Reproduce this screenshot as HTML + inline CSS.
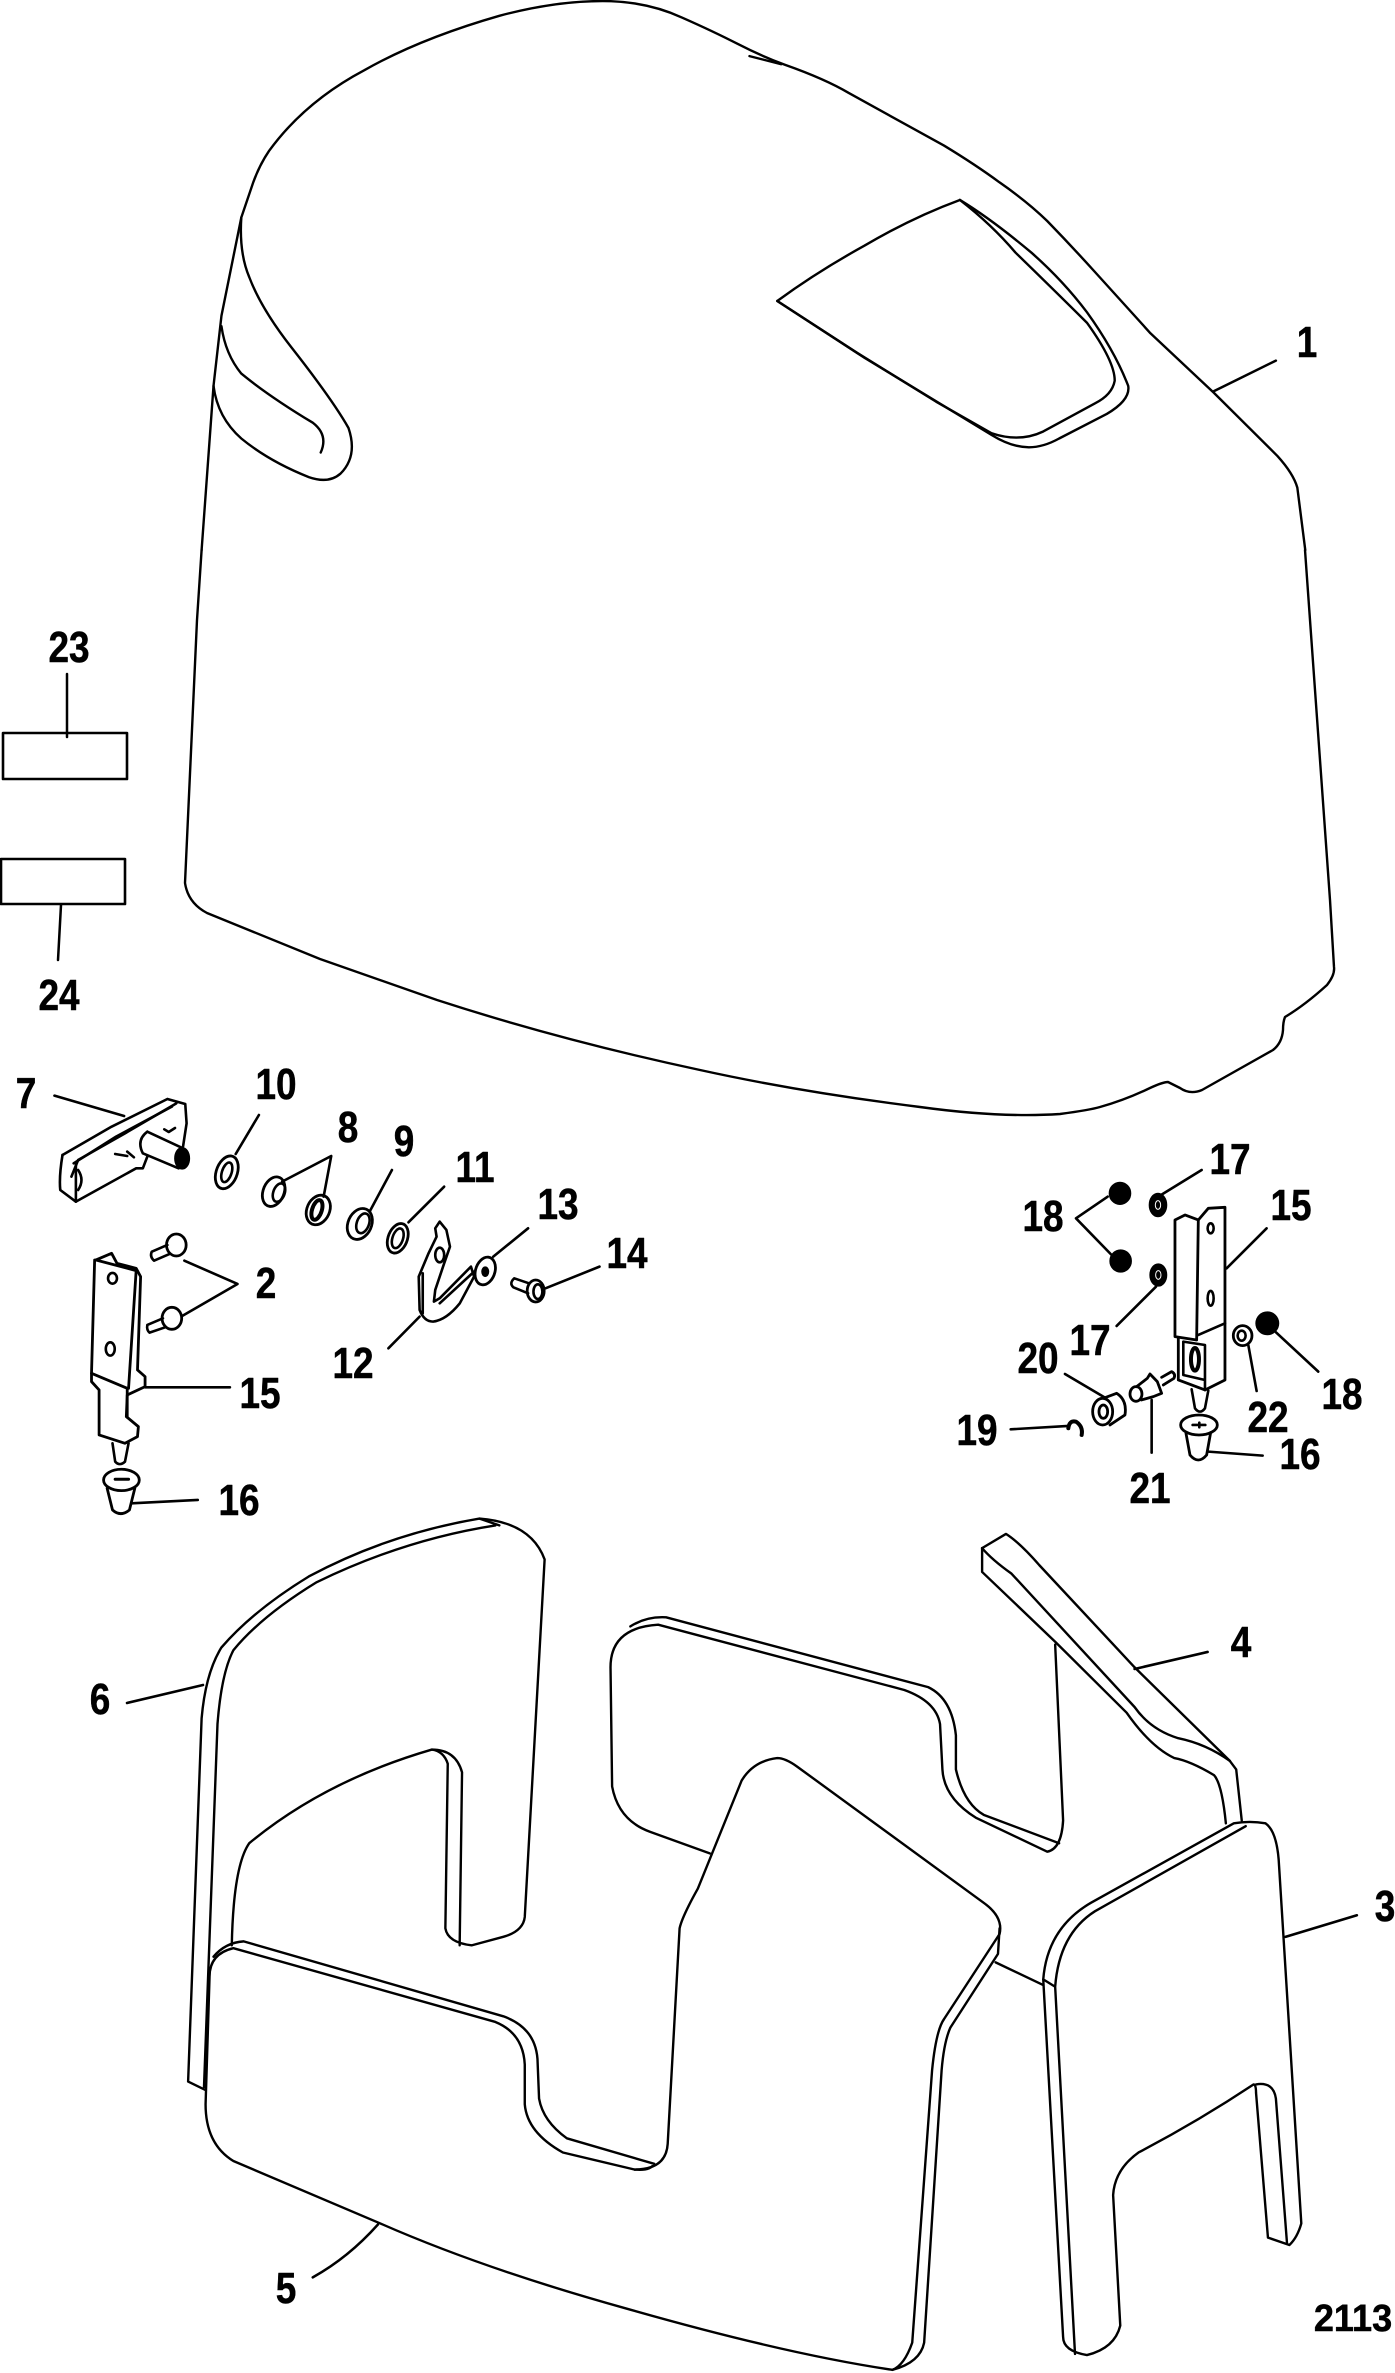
<!DOCTYPE html>
<html><head><meta charset="utf-8"><title>Cowl diagram</title>
<style>
html,body{margin:0;padding:0;background:#fff}
svg{display:block}
path,line,ellipse,rect,polyline{vector-effect:non-scaling-stroke}
text{font-family:"Liberation Sans",sans-serif;font-weight:bold;font-size:44px;text-anchor:middle;fill:#000;stroke:#000;stroke-width:.5px}
</style></head><body>
<svg xmlns="http://www.w3.org/2000/svg" width="1395" height="2373" viewBox="0 0 1395 2373" fill="none" stroke="#000" stroke-width="2.4" stroke-linejoin="round" stroke-linecap="round">

<!-- Cowl upper, zoom 3 space -->
<g transform="translate(150,0) scale(.7940,.3508)">
<path d="M65,1568 L80,1100 L90,900 L115,620 L130,520 Q138,470 150,430 Q195,290 270,200 Q340,110 440,45 Q510,3 570,3 Q625,3 670,50 Q710,90 740,125 Q770,160 800,185 Q850,225 880,265 L1000,415 Q1040,470 1070,520 Q1105,575 1130,630 Q1160,700 1190,775 L1260,950 L1340,1120 L1420,1300 Q1440,1350 1445,1390 L1455,1568"/>
<path d="M755,160 L795,183"/>
<path d="M115,620 Q112,720 125,790 Q140,880 178,990 Q230,1140 250,1220 Q262,1300 240,1350 Q225,1380 200,1360 Q150,1315 115,1250 Q85,1190 80,1100"/>
<path d="M90,930 Q95,1010 115,1065 Q150,1130 205,1205 Q225,1240 215,1290"/>
<path d="M1020,570 Q960,620 900,700 Q840,775 790,858 L900,1020 L1060,1240 Q1085,1275 1107,1275 Q1125,1275 1145,1250 L1205,1180 Q1235,1140 1232,1100 Q1215,1000 1180,890 Q1150,800 1110,720 Q1060,625 1020,570"/>
<path d="M1020,570 Q1060,640 1090,720 Q1140,830 1180,920 Q1215,1030 1215,1085 Q1212,1125 1190,1150 L1125,1230 Q1095,1262 1060,1235 L990,1145 L890,1005 L790,858"/>
<path d="M1340,1115 L1418,1028" stroke-width="2.5"/>
</g>
<!-- Cowl lower -->
<path d="M1305,550 L1330,900 L1334,967 Q1335,975 1327,985 Q1305,1005 1285,1017 Q1283,1022 1283,1030 Q1282,1043 1273,1050 L1202,1090 Q1190,1095 1180,1088 L1168,1082 Q1163,1082 1150,1088 Q1125,1100 1100,1107 Q1090,1110 1060,1114 Q1000,1118 920,1107 Q800,1092 700,1070 Q560,1040 437,1000 L320,959 L207,913 Q188,903 185,883 L197,620 L201.6,550"/>

<!-- 23, 24 -->
<rect x="3" y="733" width="124" height="46" stroke-width="2.6"/>
<rect x="1" y="859" width="124" height="45" stroke-width="2.6"/>
<line x1="67" y1="674" x2="67" y2="737" stroke-width="2.5"/>
<line x1="61" y1="905" x2="58" y2="960" stroke-width="2.5"/>

<!-- Left hardware, zoom 1 space -->
<g transform="translate(0,1000) scale(.4464,.3333)" stroke-width="2.6">
<path d="M122,287 L278,348" stroke-width="2.6"/>
<path d="M140,465 L250,380 L375,297 L415,312 L418,370 L410,440"/>
<path d="M140,465 Q132,530 135,570 L170,605 L305,505 L320,505 L330,470"/>
<path d="M165,490 L260,410 L385,320"/>
<path d="M160,530 L175,480 L280,400 L395,310"/>
<path d="M170,490 L170,605"/>
<path d="M175,510 Q190,540 175,570"/>
<path d="M330,395 L410,445 M320,460 L400,505 M330,395 Q305,420 320,460"/>
<ellipse cx="408" cy="475" rx="15" ry="30" fill="#000"/>
<path d="M368,388 L378,396 L392,384 M258,462 L285,468 M285,455 L300,472"/>
<ellipse cx="508" cy="517" rx="24" ry="50" transform="rotate(12 508 517)" stroke-width="2.8"/>
<ellipse cx="508" cy="517" rx="11" ry="30" transform="rotate(12 508 517)"/>
<path d="M528,462 L580,345"/>
<ellipse cx="613" cy="575" rx="24" ry="45" transform="rotate(12 613 575)" stroke-width="2.8"/>
<ellipse cx="625" cy="578" rx="13" ry="28" transform="rotate(12 625 578)"/>
<ellipse cx="713" cy="630" rx="26" ry="45" transform="rotate(12 713 630)" stroke-width="2.8"/>
<ellipse cx="710" cy="630" rx="11" ry="30" transform="rotate(12 710 630)" stroke-width="4"/>
<path d="M632,545 L742,468 L725,590"/>
<ellipse cx="806" cy="672" rx="27" ry="47" transform="rotate(12 806 672)" stroke-width="2.8"/>
<ellipse cx="813" cy="670" rx="14" ry="30" transform="rotate(12 813 670)"/>
<path d="M828,635 L878,510"/>
<ellipse cx="891" cy="715" rx="22" ry="45" transform="rotate(12 891 715)" stroke-width="2.8"/>
<ellipse cx="891" cy="715" rx="12" ry="30" transform="rotate(12 891 715)"/>
<path d="M915,667 L995,560"/>
<path d="M985,665 L975,685 L978,710 L960,760 L938,830 L940,930 Q950,965 970,965 Q1000,960 1030,910 L1062,830 L1055,800 L985,895 L972,905 L975,870 L995,790 L1008,740 L1000,690 Z"/>
<path d="M947,820 L947,940 M985,910 L1062,815"/>
<ellipse cx="985" cy="765" rx="10" ry="22"/>
<path d="M940,950 L870,1045"/>
<ellipse cx="1087" cy="813" rx="22" ry="42" transform="rotate(10 1087 813)" stroke-width="2.8"/>
<ellipse cx="1087" cy="815" rx="6" ry="12" fill="#000"/>
<path d="M1105,770 L1183,685"/>
<ellipse cx="1200" cy="873" rx="19" ry="33" stroke-width="2.8"/>
<ellipse cx="1205" cy="875" rx="10" ry="22"/>
<path d="M1185,850 L1152,835 Q1140,850 1150,862 L1183,880"/>
<path d="M1222,865 L1343,800"/>
<ellipse cx="395" cy="735" rx="22" ry="33" stroke-width="2.8"/>
<path d="M375,735 L340,755 Q335,770 345,782 L380,762"/>
<ellipse cx="385" cy="955" rx="22" ry="33" stroke-width="2.8"/>
<path d="M365,955 L330,975 Q328,990 335,998 L370,982"/>
<path d="M413,782 L532,852 L408,948"/>
<path d="M215,780 L250,760 L262,790 L305,805 L315,830 L308,1110 L325,1130 L325,1160 L285,1185 L283,1250 L310,1280 L308,1310 L280,1330 L222,1305 L222,1170 L205,1145 L205,1120 L212,780 Z" stroke-width="2.8"/>
<path d="M205,1120 L285,1165 L285,1250 M215,780 L305,812 L288,1165" stroke-width="2.8"/>
<ellipse cx="252" cy="835" rx="10" ry="16"/>
<ellipse cx="247" cy="1047" rx="10" ry="20"/>
<path d="M252,1330 L258,1385 Q268,1400 280,1385 L288,1330"/>
<ellipse cx="272" cy="1440" rx="40" ry="32" stroke-width="2.8"/>
<path d="M258,1438 L288,1438" stroke-width="3"/>
<path d="M240,1465 L252,1530 Q270,1552 290,1530 L302,1465" stroke-width="2.8"/>
<path d="M295,1510 L443,1500"/>
<path d="M325,1162 L515,1162"/>
</g>

<!-- Right hardware, zoom 2 space -->
<g transform="translate(920,1100) scale(.3333)" stroke-width="2.6">
<path d="M563,290 L468,355 L575,465"/>
<ellipse cx="600" cy="280" rx="30" ry="31" fill="#000"/>
<ellipse cx="602" cy="483" rx="30" ry="31" fill="#000"/>
<ellipse cx="714" cy="315" rx="24" ry="33" fill="#000"/>
<ellipse cx="714" cy="315" rx="8" ry="13" stroke="#fff" stroke-width="1"/>
<ellipse cx="715" cy="525" rx="23" ry="31" fill="#000"/>
<ellipse cx="715" cy="525" rx="8" ry="13" stroke="#fff" stroke-width="1"/>
<path d="M723,285 L845,210 M708,560 L590,678"/>
<path d="M765,360 L795,345 L835,360 L830,720 L765,710 Z" stroke-width="2.8"/>
<path d="M835,360 L865,325 L915,322 L915,840 L855,870 L775,840 L775,715" stroke-width="2.8"/>
<path d="M835,705 L915,670 M790,725 L855,735 L855,870 M790,725 L790,825 L855,840"/>
<ellipse cx="825" cy="778" rx="12" ry="34" stroke-width="4"/>
<ellipse cx="872" cy="385" rx="9" ry="15"/>
<ellipse cx="872" cy="595" rx="9" ry="22"/>
<path d="M920,505 L1040,385"/>
<path d="M815,868 L825,925 Q840,945 855,925 L865,872"/>
<ellipse cx="837" cy="975" rx="55" ry="30" stroke-width="2.8"/>
<path d="M818,975 L856,975 M838,968 L838,982"/>
<path d="M798,1000 L810,1065 Q835,1095 860,1065 L872,998" stroke-width="2.8"/>
<path d="M865,1055 L1028,1067"/>
<ellipse cx="1042" cy="670" rx="32" ry="32" fill="#000"/>
<path d="M1068,697 L1195,815"/>
<ellipse cx="968" cy="707" rx="28" ry="30" stroke-width="2.8"/>
<ellipse cx="965" cy="707" rx="12" ry="15"/>
<path d="M985,735 L1010,873"/>
<ellipse cx="548" cy="935" rx="30" ry="40" stroke-width="2.8"/>
<ellipse cx="550" cy="935" rx="13" ry="20" stroke-width="2.8"/>
<path d="M555,893 L590,880 Q622,900 615,945 L570,975" stroke-width="2.8"/>
<path d="M435,822 L555,893"/>
<ellipse cx="648" cy="882" rx="18" ry="22" stroke-width="2.8"/>
<path d="M650,860 L682,835 L690,822 L712,845 L725,880 L700,890 L664,900" stroke-width="2.8"/>
<path d="M725,832 L755,815 Q768,822 762,835 L730,855" stroke-width="2.8"/>
<path d="M695,900 L695,1058"/>
<path d="M445,985 Q448,960 468,965 Q490,980 485,1005" stroke-width="4"/>
<path d="M272,988 L445,978"/>
</g>

<!-- Pads, zoom 4 space -->
<g transform="translate(150,1480) scale(.7940,.5675)">
<!-- part 6 -->
<path d="M70,1075 L48,1060 L65,420 Q70,340 90,295 Q130,230 200,170 Q300,95 415,68 Q480,75 497,140 L472,770 Q470,795 445,805 L405,820 Q375,815 372,790 L375,500 Q370,478 355,475 Q220,530 125,640 Q105,680 103,820"/>
<path d="M68,1070 L85,430 Q90,340 105,300 Q140,240 210,180 Q320,105 435,80"/>
<path d="M415,68 L440,80 M355,475 Q385,475 393,515 L390,820"/>
<!-- part 4 -->
<path d="M1140,290 L1150,600 Q1148,650 1130,655 L1040,595 Q1000,560 998,510 L995,430 Q990,390 950,370 L640,255 Q580,260 580,330 L582,540 Q590,600 630,620 L705,658"/>
<path d="M605,258 Q625,240 650,242 L980,365 Q1010,385 1015,450 L1015,510 Q1025,570 1050,590 L1145,640"/>
<path d="M1048,120 L1078,95 Q1095,110 1120,150 L1240,330 L1360,495 L1368,510 L1375,600"/>
<path d="M1048,120 L1048,162 L1140,285 L1230,410 Q1260,470 1290,490 Q1310,495 1340,520 Q1350,535 1355,605"/>
<path d="M1048,120 Q1060,140 1085,165 L1240,400 Q1260,440 1295,455 Q1330,465 1360,495"/>
<path d="M1065,850 L1125,890"/>
<!-- part 5 -->
<path fill="#fff" d="M75,875 Q75,835 105,825 L435,955 Q470,975 472,1030 L472,1100 Q475,1150 520,1185 L610,1215 Q650,1215 652,1170 L667,790 Q670,770 690,720 L745,530 Q760,495 790,490 Q800,490 815,505 L1050,745 Q1075,770 1070,800 L1000,950 Q990,970 985,1040 L960,1520 Q950,1560 935,1568 Q800,1540 600,1460 Q420,1390 290,1310 L105,1200 Q70,1170 70,1100 Z"/>
<path d="M80,840 Q95,815 118,813 L445,945 Q485,965 488,1020 L490,1090 Q495,1130 525,1160 L635,1205 Q630,1218 610,1215"/>
<path d="M1070,790 L1068,835 L1008,965 Q1000,990 997,1040 L975,1520 Q970,1555 935,1568"/>
<!-- part 3 -->
<path fill="#fff" d="M1125,880 Q1130,790 1185,745 L1365,605 Q1385,600 1405,605 Q1420,620 1422,680 L1450,1310 Q1445,1335 1435,1348 L1408,1335 L1393,1080 Q1393,1065 1390,1065 Q1320,1130 1245,1185 Q1215,1215 1213,1260 L1222,1490 Q1215,1530 1180,1542 Q1150,1535 1150,1510 Z"/>
<path d="M1125,880 L1140,893 Q1145,800 1190,760 L1380,610 M1140,893 L1165,1540 M1393,1065 Q1415,1060 1418,1090 L1432,1345"/>
<!-- leaders -->
<path d="M1240,333 L1332,303 M1430,805 L1520,767 M287,1312 Q250,1370 205,1405" stroke-width="2.6"/>
</g>
<line x1="127" y1="1703" x2="203" y2="1685" stroke-width="2.6"/>

<g>
<text transform="translate(1307,357) scale(.84,1)">1</text>
<text transform="translate(69,662) scale(.84,1)">23</text>
<text transform="translate(59,1010) scale(.84,1)">24</text>
<text transform="translate(26,1108) scale(.84,1)">7</text>
<text transform="translate(276,1099) scale(.84,1)">10</text>
<text transform="translate(348,1142) scale(.84,1)">8</text>
<text transform="translate(404,1156) scale(.84,1)">9</text>
<text transform="translate(475,1182) scale(.84,1)">11</text>
<text transform="translate(558,1219) scale(.84,1)">13</text>
<text transform="translate(627,1268) scale(.84,1)">14</text>
<text transform="translate(266,1298) scale(.84,1)">2</text>
<text transform="translate(353,1378) scale(.84,1)">12</text>
<text transform="translate(260,1408) scale(.84,1)">15</text>
<text transform="translate(239,1515) scale(.84,1)">16</text>
<text transform="translate(1230,1174) scale(.84,1)">17</text>
<text transform="translate(1043,1231) scale(.84,1)">18</text>
<text transform="translate(1291,1220) scale(.84,1)">15</text>
<text transform="translate(1090,1355) scale(.84,1)">17</text>
<text transform="translate(1038,1373) scale(.84,1)">20</text>
<text transform="translate(1342,1409) scale(.84,1)">18</text>
<text transform="translate(1268,1432) scale(.84,1)">22</text>
<text transform="translate(977,1445) scale(.84,1)">19</text>
<text transform="translate(1150,1503) scale(.84,1)">21</text>
<text transform="translate(1300,1469) scale(.84,1)">16</text>
<text transform="translate(100,1714) scale(.84,1)">6</text>
<text transform="translate(1241,1657) scale(.84,1)">4</text>
<text transform="translate(1385,1921) scale(.84,1)">3</text>
<text transform="translate(286,2303) scale(.84,1)">5</text>
<text transform="translate(1353,2331) scale(.95,1)" style="font-size:38px">2113</text>
</g>
</svg>
</body></html>
